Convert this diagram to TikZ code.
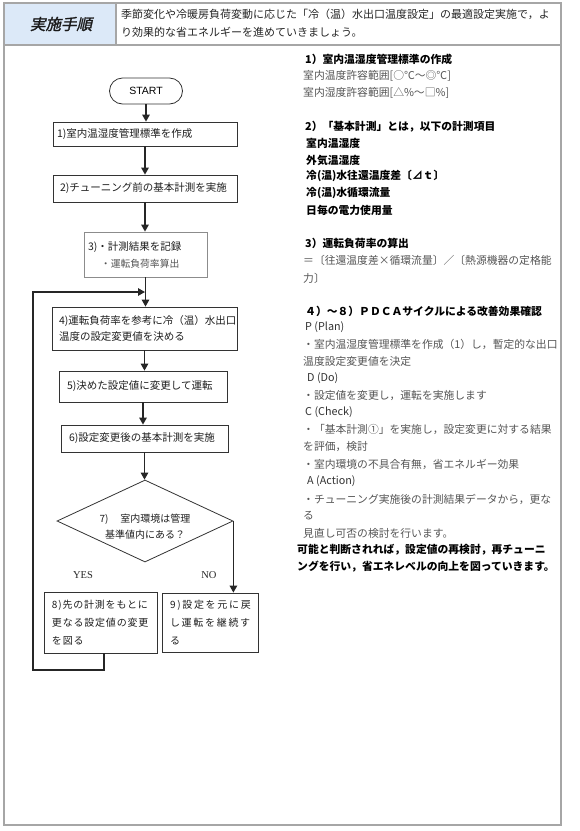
\documentclass[tikz,border=0pt]{standalone}
\usepackage{fontspec}
\usetikzlibrary{arrows.meta,shapes.geometric}
\setmainfont{Noto Sans CJK JP}
\newfontfamily\jp{Noto Sans CJK JP}
\newfontfamily\jplabel[FakeSlant=0.22,FakeBold=1.5]{Noto Sans CJK JP}
\newfontfamily\jpsa[LetterSpace=8]{Noto Sans CJK JP}
\newfontfamily\jpsb[LetterSpace=17]{Noto Sans CJK JP}
\newfontfamily\enserif{Liberation Serif}
\newfontfamily\ensans{Liberation Sans}
\definecolor{hdrblue}{HTML}{DCE9F8}
\definecolor{framegray}{HTML}{A6A6A6}
\definecolor{minchogray}{HTML}{555555}
\tikzset{
  frame/.style={draw=framegray, line width=1.1pt},
  box/.style={draw=black!80, line width=0.8pt, fill=white, inner ysep=0pt, align=left,
    text=black!88, font=\jp\fontsize{10.5}{16}\selectfont},
  arr/.style={draw=black!85, line width=1.3pt, -{Triangle[width=7.5pt,length=7pt]}},
  rt/.style={anchor=west, inner sep=0pt, text=minchogray, font=\jp\fontsize{10.8}{13}\selectfont},
  rs/.style={anchor=west, inner sep=0pt, text=black!80, font=\jp\fontsize{10.8}{13}\selectfont},
  rb/.style={anchor=west, inner sep=0pt, text=black, font=\jp\bfseries\fontsize{10.8}{13}\selectfont},
}
\begin{document}
\begin{tikzpicture}[x=1pt,y=-1pt]
\useasboundingbox (0,0) rectangle (580,831);
\fill[white] (0,0) rectangle (580,831);
% frames
\draw[frame, fill=white] (4,45) rectangle (561,825);
\draw[frame, fill=hdrblue] (4,3) rectangle (116,45);
\draw[frame, fill=white] (116,3) rectangle (561,45);
\node[font=\jplabel\fontsize{15.5}{18}\selectfont, text=black!90] (hlabel) at (61,24) {実施手順};
\node[anchor=west, align=left, inner sep=0pt, text=black!85, font=\jp\fontsize{11}{18}\selectfont] (htext) at (121,23)
  {季節変化や冷暖房負荷変動に応じた「冷（温）水出口温度設定」の最適設定実施で，よ\\り効果的な省エネルギーを進めていきましょう。};

% flowchart
\node[draw=black!80, line width=0.8pt, rounded corners=13pt, minimum width=73pt, minimum height=26pt,
  inner sep=0pt, font=\ensans\fontsize{10.5}{12}\selectfont] (start) at (146,91) {START};
\node[box, minimum height=24pt, text width=176pt, inner xsep=4pt] (b1) at (145,134) {1)室内温湿度管理標準を作成};
\node[box, minimum height=27pt, text width=170pt, inner xsep=7pt] (b2) at (145,188.5) {2)チューニング前の基本計測を実施};
\node[box, draw=black!45, minimum height=45pt, text width=115pt, inner xsep=4pt,
  font=\jp\fontsize{10.5}{17}\selectfont] (b3) at (145.5,254.5)
  {3)・計測結果を記録\\\hspace*{13pt}{\color{minchogray}\fontsize{9.8}{17}\selectfont・運転負荷率算出}};
\node[box, minimum height=43pt, text width=171pt, inner xsep=7pt] (b4) at (144.5,328.5)
  {4)運転負荷率を参考に冷（温）水出口\\温度の設定変更値を決める};
\node[box, minimum height=31pt, text width=152pt, inner xsep=8pt] (b5) at (143,386.5) {5)決めた設定値に変更して運転};
\node[box, minimum height=27pt, text width=151pt, inner xsep=8pt] (b6) at (144.5,438.5) {6)設定変更後の基本計測を実施};
\node[draw=black!80, line width=0.8pt, diamond, minimum width=176pt, minimum height=82pt, inner sep=0pt] (dia) at (145,521) {};
\node[align=center, inner sep=0pt, text=black!88, font=\jp\fontsize{10}{16}\selectfont] (diatext) at (145,527)
  {7)\hspace{12pt}室内環境は管理\\基準値内にある？};
\node[font=\enserif\fontsize{10.5}{12}\selectfont, text=black!85] (yes) at (83,575) {YES};
\node[font=\enserif\fontsize{10.5}{12}\selectfont, text=black!85] (no) at (209,575) {NO};
\node[box, minimum height=61pt, text width=97pt, inner xsep=8pt, font=\jpsa\fontsize{10}{18}\selectfont] (b8) at (100.5,622.5)
  {8)先の計測をもとに\\更なる設定値の変更\\を図る};
\node[box, minimum height=59pt, text width=80pt, inner xsep=8pt, font=\jpsb\fontsize{10}{18}\selectfont] (b9) at (210,622.5)
  {9)設定を元に戻\\し運転を継続す\\る};

% connectors
\coordinate (join) at (145,292);
\coordinate (loopL) at (33,670);
\coordinate (b8out) at (104,653);
\draw[arr] (start.south) -- (start.south |- b1.north);
\draw[arr] (b1.south) -- (b1.south |- b2.north);
\draw[arr] (b2.south) -- (b2.south |- b3.north);
\draw[arr] (b3.south) -- (b3.south |- b4.north);
\draw[arr] (b4.south) -- (b4.south |- b5.north);
\draw[arr] (b5.south) -- (b5.south |- b6.north);
\draw[arr] (b6.south) -- (b6.south |- dia.north);
\draw[arr] (dia.east) -- (dia.east |- b9.north);
\draw[arr] (b8out) |- (loopL) |- (join);

% right column
\node[rb] (r1) at (305,59) {1）室内温湿度管理標準の作成};
\node[rt] (r2) at (303,76) {室内温度許容範囲[○℃～◎℃]};
\node[rt] (r3) at (303,93) {室内湿度許容範囲[△\%～□\%]};
\node[rb] (r5) at (305,127) {2）「基本計測」とは，以下の計測項目};
\node[rb] (r6) at (306,143) {室内温湿度};
\node[rb] (r7) at (306,160) {外気温湿度};
\node[rb] (r8) at (306,176) {冷(温)水往還温度差〔⊿ｔ〕};
\node[rb] (r9) at (306,193) {冷(温)水循環流量};
\node[rb] (r10) at (306,210) {日毎の電力使用量};
\node[rb] (r12) at (305,243) {3）運転負荷率の算出};
\node[rt] (r13) at (303,260) {＝〔往還温度差×循環流量〕／〔熱源機器の定格能};
\node[rt] (r14) at (303,278) {力〕};
\node[rb] (r16) at (305,311) {４）～８）ＰＤＣＡサイクルによる改善効果確認};
\node[rs] (r17) at (305,327) {P (Plan)};
\node[rt] (r18) at (303,344) {・室内温湿度管理標準を作成（1）し，暫定的な出口};
\node[rt] (r19) at (303,361) {温度設定変更値を決定};
\node[rs] (r20) at (307,378) {D (Do)};
\node[rt] (r21) at (303,396) {・設定値を変更し，運転を実施します};
\node[rs] (r22) at (305,412) {C (Check)};
\node[rt] (r23) at (303,430) {・「基本計測①」を実施し，設定変更に対する結果};
\node[rt] (r24) at (303,447) {を評価，検討};
\node[rt] (r25) at (303,464) {・室内環境の不具合有無，省エネルギー効果};
\node[rs] (r26) at (307,481) {A (Action)};
\node[rt] (r27) at (303,499) {・チューニング実施後の計測結果データから，更な};
\node[rt] (r28) at (303,516) {る};
\node[rt] (r29) at (303,533) {見直し可否の検討を行います。};
\node[rb] (r30) at (297,550) {可能と判断されれば，設定値の再検討，再チューニ};
\node[rb] (r31) at (297,567) {ングを行い，省エネレベルの向上を図っていきます。};
\end{tikzpicture}
\end{document}
